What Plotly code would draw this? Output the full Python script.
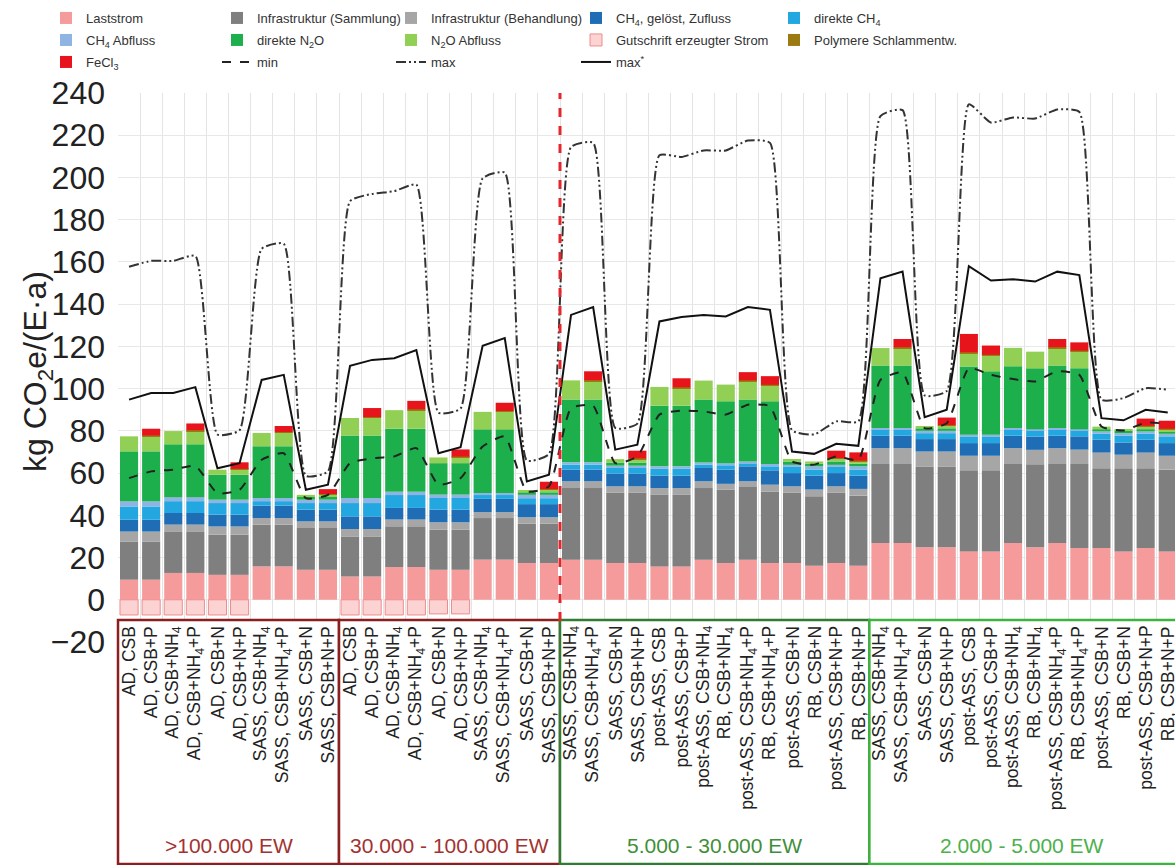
import plotly.graph_objects as go

# ---------------- categories ----------------
labels_large = ["AD, CSB", "AD, CSB+P", "AD, CSB+NH<sub>4</sub>", "AD, CSB+NH<sub>4</sub>+P",
                "AD, CSB+N", "AD, CSB+N+P", "SASS, CSB+NH<sub>4</sub>", "SASS, CSB+NH<sub>4</sub>+P",
                "SASS, CSB+N", "SASS, CSB+N+P"]
labels_small = ["SASS, CSB+NH<sub>4</sub>", "SASS, CSB+NH<sub>4</sub>+P", "SASS, CSB+N", "SASS, CSB+N+P",
                "post-ASS, CSB", "post-ASS, CSB+P", "post-ASS, CSB+NH<sub>4</sub>", "RB, CSB+NH<sub>4</sub>",
                "post-ASS, CSB+NH<sub>4</sub>+P", "RB, CSB+NH<sub>4</sub>+P", "post-ASS, CSB+N", "RB, CSB+N",
                "post-ASS, CSB+N+P", "RB, CSB+N+P"]
categories = labels_large + labels_large + labels_small + labels_small

group_names = [">100.000 EW", "30.000 - 100.000 EW", "5.000 - 30.000 EW", "2.000 - 5.000 EW"]
group_sizes = [10, 10, 14, 14]

# ---------------- series (kg CO2e/(E·a)) ----------------
laststrom = [9.5, 9.5, 12.7, 12.7, 11.8, 11.8, 15.8, 15.8, 14.2, 14.2,
             11.0, 11.0, 15.5, 15.5, 14.2, 14.2, 19.0, 19.0, 17.4, 17.4,
             19.0, 19.0, 17.4, 17.4, 15.8, 15.8, 19.0, 17.4, 19.0, 17.4, 17.4, 16.1, 17.4, 16.1,
             26.9, 26.9, 24.9, 24.9, 22.9, 22.9, 26.9, 24.9, 26.9, 24.5, 24.5, 22.9, 24.5, 22.9]
infra_sammlung = [18.1, 18.1, 19.7, 19.7, 19.0, 19.0, 19.8, 19.8, 19.8, 19.8,
                  19.0, 19.0, 19.3, 19.3, 19.0, 19.0, 19.7, 19.7, 18.6, 18.6,
                  33.9, 33.9, 33.4, 33.4, 34.0, 34.0, 33.9, 34.7, 34.4, 33.9, 33.4, 32.9, 33.4, 33.2,
                  37.4, 37.4, 38.2, 38.2, 38.4, 38.4, 37.4, 39.3, 37.4, 39.8, 37.8, 39.4, 37.8, 38.7]
infra_behandlung = [4.7, 4.7, 3.2, 3.2, 3.9, 3.9, 3.1, 3.1, 3.1, 3.1,
                    3.5, 3.5, 3.2, 3.2, 3.5, 3.5, 2.8, 2.8, 3.1, 3.1,
                    3.2, 3.2, 2.9, 2.9, 3.1, 3.1, 3.2, 2.8, 2.7, 3.2, 2.9, 3.2, 2.9, 3.2,
                    7.5, 7.5, 7.1, 7.1, 6.9, 6.9, 7.5, 6.8, 7.5, 6.8, 7.4, 6.4, 7.4, 6.6]
ch4_zufluss = [5.6, 5.6, 5.5, 5.5, 5.6, 5.6, 5.9, 5.9, 5.6, 5.6,
               6.0, 6.0, 5.5, 5.5, 6.0, 6.0, 6.3, 6.3, 6.2, 6.2,
               5.6, 5.6, 6.0, 6.0, 5.9, 5.9, 6.3, 6.7, 7.1, 6.8, 6.3, 6.6, 6.3, 6.3,
               5.9, 5.9, 5.9, 5.9, 6.0, 6.0, 5.9, 6.3, 5.9, 6.3, 6.1, 5.8, 6.1, 6.0]
ch4_direkt = [6.3, 6.3, 5.6, 5.6, 5.5, 5.5, 2.1, 2.1, 3.1, 3.1,
              6.3, 6.3, 6.1, 6.1, 5.5, 5.5, 1.8, 1.8, 2.8, 2.8,
              2.3, 2.3, 2.7, 2.7, 3.2, 3.2, 1.5, 2.1, 1.5, 1.9, 2.9, 2.9, 2.9, 2.9,
              2.9, 2.9, 2.8, 2.8, 2.9, 2.9, 2.9, 2.7, 2.9, 2.7, 2.8, 3.2, 2.8, 3.2]
ch4_abfluss = [2.4, 2.4, 1.9, 1.9, 1.6, 1.6, 1.5, 1.5, 1.6, 1.6,
               2.4, 2.4, 1.5, 1.5, 1.6, 1.6, 1.0, 1.0, 1.6, 1.6,
               1.1, 1.1, 1.1, 1.1, 1.2, 1.2, 1.1, 1.0, 0.8, 1.1, 1.0, 1.5, 1.0, 1.5,
               0.7, 0.7, 1.1, 1.1, 1.1, 1.1, 0.7, 0.7, 0.7, 0.7, 1.1, 1.2, 1.1, 1.2]
n2o_direkt = [23.7, 23.7, 25.0, 25.0, 11.8, 11.8, 24.5, 24.5, 1.5, 1.5,
              29.6, 29.6, 29.9, 29.9, 14.9, 14.9, 30.1, 30.1, 1.2, 1.2,
              29.8, 29.8, 1.5, 1.5, 28.7, 28.7, 29.8, 29.3, 29.3, 29.7, 1.6, 1.2, 1.6, 1.2,
              29.6, 29.6, 1.2, 1.2, 32.3, 30.0, 29.3, 28.9, 29.6, 28.9, 1.1, 1.1, 1.1, 1.1]
n2o_abfluss = [7.1, 7.1, 6.3, 6.3, 2.4, 2.4, 6.3, 6.3, 0.8, 0.8,
               8.3, 8.3, 8.8, 8.8, 2.7, 2.7, 8.3, 8.3, 1.1, 1.1,
               9.0, 8.7, 1.6, 1.6, 8.9, 8.3, 9.0, 7.9, 8.7, 7.4, 1.2, 1.1, 1.2, 1.1,
               8.3, 8.3, 1.1, 1.1, 6.3, 7.4, 8.7, 7.9, 8.3, 7.9, 1.2, 0.9, 1.2, 0.9]
gutschrift = [-7.2, -7.2, -7.2, -7.2, -7.2, -7.2, None, None, None, None,
              -7.2, -7.2, -7.2, -7.2, -6.7, -6.7, None, None, None, None,
              None, None, None, None, None, None, None, None, None, None, None, None, None, None,
              None, None, None, None, None, None, None, None, None, None, None, None, None, None]
polymere = [0, 0.4, 0, 0.4, 0, 0.4, 0, 0.4, 0, 0.4,
            0, 0.4, 0, 0.4, 0, 0.4, 0, 0.4, 0, 0.4,
            0, 0.4, 0, 0.4, 0, 0.4, 0, 0, 0.4, 0.4, 0, 0, 0.4, 0.4,
            0, 0.4, 0, 0.4, 0.4, 0.4, 0, 0, 0.4, 0.4, 0, 0, 0.4, 0.4]
fecl3 = [0, 3.2, 0, 3.2, 0, 3.1, 0, 2.9, 0, 2.3,
         0, 4.3, 0, 4.0, 0, 3.4, 0, 3.9, 0, 3.5,
         0, 4.2, 0, 3.6, 0, 4.3, 0, 0, 3.9, 4.1, 0, 0, 3.5, 3.9,
         0, 3.9, 0, 3.6, 8.7, 4.4, 0, 0, 3.9, 3.9, 0, 0, 3.4, 3.8]

min_vals = [57.6, 60.8, 61.6, 63.4, 50.5, 52.1, 66.3, 69.4, 48.1, 49.7,
            64.7, 67.0, 67.9, 71.8, 54.5, 57.6, 72.6, 77.4, 51.3, 53.7,
            90.7, 91.9, 64.7, 67.9, 87.7, 89.6, 89.2, 87.7, 92.4, 91.6, 65.5, 64.0, 67.9, 66.3,
            104.1, 107.6, 81.3, 83.6, 109.7, 106.5, 104.5, 103.4, 108.2, 106.5, 82.1, 80.2, 83.9, 83.3]
max_vals = [157.7, 160.5, 160.5, 162.8, 78.3, 80.3, 166.2, 168.6, 58.7, 60.8,
            188.8, 192.2, 193.5, 196.6, 88.6, 90.6, 199.6, 202.3, 66.0, 69.0,
            214.4, 216.4, 81.4, 83.4, 210.5, 209.7, 212.8, 212.8, 217.5, 216.4, 80.3, 78.3, 84.5, 84.5,
            229.1, 231.9, 96.8, 98.9, 234.6, 226.0, 228.4, 227.9, 232.2, 231.0, 94.8, 95.5, 100.2, 99.5]
max_star_vals = [94.8, 97.9, 97.9, 100.7, 62.3, 64.7, 104.1, 106.5, 52.1, 54.5,
                 110.8, 113.6, 114.4, 118.3, 69.4, 72.3, 120.3, 123.9, 56.0, 59.2,
                 134.9, 138.6, 71.1, 73.4, 131.8, 133.9, 134.9, 134.2, 138.6, 137.3, 70.2, 69.1, 73.9, 72.9,
                 152.3, 155.4, 86.5, 90.0, 158.0, 151.2, 151.8, 150.7, 155.4, 153.8, 86.0, 85.0, 90.0, 88.7]

y_ticks = [-20, 0, 20, 40, 60, 80, 100, 120, 140, 160, 180, 200, 220, 240]

# ---------------- geometry ----------------
W, H = 1175, 865
L_PX, R_PX, T_PX, B_PX = 118, 1175, 93, 642
STEP_PX = 22.1
X_MIN = -0.5
X_MAX = X_MIN + (R_PX - L_PX) / STEP_PX
FONT = "Liberation Sans, Arial, sans-serif"


def px_x(p):
    return (p - L_PX) / (R_PX - L_PX)


def px_y(p):
    return (B_PX - p) / (B_PX - T_PX)


def data_x(v):
    return (v - X_MIN) / (X_MAX - X_MIN)


x = list(range(len(categories)))

bar_series = [
    ("Laststrom", laststrom, "#F59B9B"),
    ("Infrastruktur (Sammlung)", infra_sammlung, "#7F7F7F"),
    ("Infrastruktur (Behandlung)", infra_behandlung, "#A6A6A6"),
    ("CH<sub>4</sub>, gelöst, Zufluss", ch4_zufluss, "#1F6EB5"),
    ("direkte CH<sub>4</sub>", ch4_direkt, "#22A7E0"),
    ("CH<sub>4</sub> Abfluss", ch4_abfluss, "#8DB4E2"),
    ("direkte N<sub>2</sub>O", n2o_direkt, "#1DAF4B"),
    ("N<sub>2</sub>O Abfluss", n2o_abfluss, "#92CF55"),
    ("Gutschrift erzeugter Strom", gutschrift, "#FCD3D3"),
    ("Polymere Schlammentw.", polymere, "#9C7A12"),
    ("FeCl<sub>3</sub>", fecl3, "#E8141B"),
]

fig = go.Figure()
legend_ids = []
for k, (name, vals, color) in enumerate(bar_series):
    lid = "legend" if k == 0 else f"legend{k + 1}"
    legend_ids.append(lid)
    line = dict(width=1, color="#EE8C8C") if name.startswith("Gutschrift") else dict(width=0)
    fig.add_trace(go.Bar(x=x, y=vals, name=name, marker=dict(color=color, line=line),
                         width=0.82, legend=lid))

line_series = [
    ("min", min_vals, dict(color="#222222", width=2, dash="dash"), "spline"),
    ("max", max_vals, dict(color="#333333", width=2, dash="10px,3px,2px,3px,2px,3px"), "spline"),
    ("max<sup>*</sup>", max_star_vals, dict(color="#111111", width=2), "linear"),
]
for k, (name, vals, ln, shape) in enumerate(line_series):
    lid = f"legend{len(bar_series) + k + 1}"
    legend_ids.append(lid)
    ln = dict(ln, shape=shape)
    if shape == "spline":
        ln["smoothing"] = 0.5
    fig.add_trace(go.Scatter(x=x, y=vals, name=name, mode="lines", line=ln, legend=lid))

# legend laid out as 5 columns x 3 rows
col_text_px = [87, 258, 432, 617, 815]
row_px = [18, 40, 62]
legend_layout = {}
for idx, lid in enumerate(legend_ids):
    r, c = divmod(idx, 5)
    legend_layout[lid] = dict(
        x=px_x(col_text_px[c] - 41), y=px_y(row_px[r]), xanchor="left", yanchor="middle",
        orientation="v", bgcolor="rgba(0,0,0,0)", borderwidth=0, visible=True,
        font=dict(family=FONT, size=13, color="#333333"),
    )

shapes = []
# group boxes below the plot holding the category labels
box_top, box_bottom = px_y(620), px_y(864)
box_colors = ["#8B1E1E", "#8B1E1E", "#2E7D32", "#3DB43D"]
group_label_colors = ["#A33232", "#A33232", "#3F8F3A", "#4CB04C"]
start = 0
annotations = []
for g, size in enumerate(group_sizes):
    x0 = data_x(start - 0.5)
    x1 = data_x(start + size - 0.5)
    shapes.append(dict(type="rect", xref="paper", yref="paper", x0=x0, x1=min(x1, 1.01),
                       y0=box_bottom, y1=box_top, fillcolor="white",
                       line=dict(color=box_colors[g], width=2.5), layer="above"))
    xc = (x0 + min(x1, 1.0)) / 2
    annotations.append(dict(text=group_names[g], xref="paper", yref="paper", x=xc, y=px_y(845),
                            xanchor="center", yanchor="middle", showarrow=False,
                            font=dict(family=FONT, size=21, color=group_label_colors[g])))
    start += size

# separator between the large and the small plant classes
shapes.append(dict(type="line", xref="x", yref="y", x0=19.5, x1=19.5, y0=-10, y1=240,
                   line=dict(color="#E3262A", width=3, dash="dash"), layer="above"))

for i, lab in enumerate(categories):
    annotations.append(dict(text=lab, x=i, xref="x", y=px_y(624), yref="paper",
                            xanchor="center", yanchor="top", textangle=-90, showarrow=False,
                            font=dict(family=FONT, size=17.5, color="#222222")))

annotations.append(dict(text="kg CO<sub>2</sub>e/(E·a)", xref="paper", yref="paper",
                        x=px_x(37), y=px_y(372), xanchor="center", yanchor="middle",
                        textangle=-90, showarrow=False,
                        font=dict(family=FONT, size=32, color="#222222")))

fig.update_layout(
    width=W, height=H,
    margin=dict(l=L_PX, r=W - R_PX, t=T_PX, b=H - B_PX, autoexpand=False),
    barmode="relative", showlegend=True,
    plot_bgcolor="white", paper_bgcolor="white",
    font=dict(family=FONT, color="#222222"),
    shapes=shapes, annotations=annotations,
    **legend_layout,
)
fig.update_xaxes(range=[X_MIN, X_MAX], tickvals=[i - 0.5 for i in range(len(categories) + 1)],
                 showticklabels=False, ticks="", showgrid=True, gridcolor="#E4E4E4", gridwidth=1,
                 zeroline=False, showline=False)
fig.update_yaxes(range=[-20, 240], tickvals=y_ticks, ticks="", ticklabelstandoff=12,
                 tickfont=dict(family=FONT, size=32, color="#222222"),
                 showgrid=True, gridcolor="#E8E8E8", gridwidth=1, zeroline=False, showline=False)

fig.write_html("out.html")
